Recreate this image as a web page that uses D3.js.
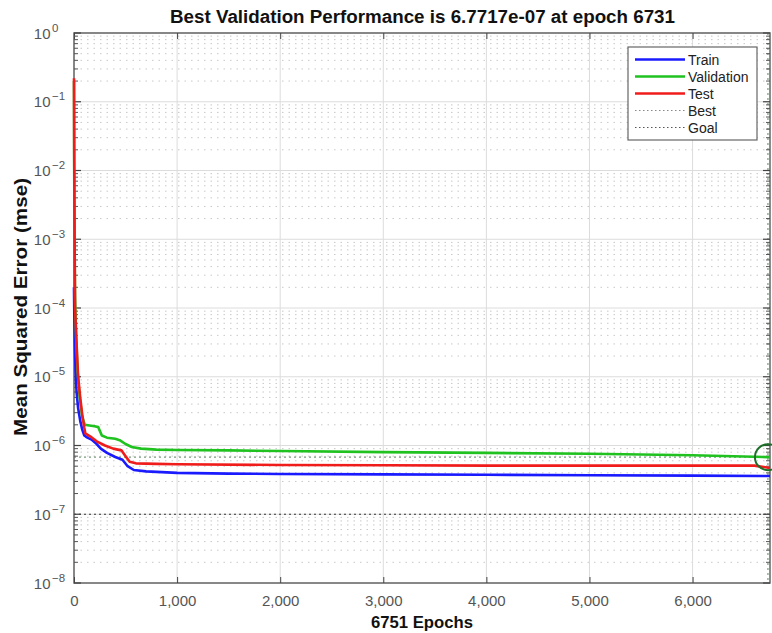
<!DOCTYPE html>
<html><head><meta charset="utf-8">
<script src="https://d3js.org/d3.v7.min.js"></script>
<style>body{margin:0;background:#fff}svg{display:block}</style>
</head><body>
<script>
// ---- data ----
const trainEpochs = [0,3,8,15,25,40,60,80,100,130,170,220,260,320,400,470,520,580,700,1000,1500,2000,3000,4000,5000,6000,6751];
const trainMse    = [2e-4,8e-5,3e-5,1.2e-5,6e-6,3.5e-6,2.3e-6,1.7e-6,1.4e-6,1.3e-6,1.22e-6,1.05e-6,0.9e-6,0.78e-6,0.68e-6,0.62e-6,0.5e-6,0.44e-6,0.42e-6,0.40e-6,0.39e-6,0.385e-6,0.38e-6,0.375e-6,0.37e-6,0.365e-6,0.36e-6];
const valEpochs = [0,2,5,10,20,35,55,80,105,150,200,235,270,320,400,450,500,560,650,800,1000,1500,2000,3000,4000,5000,6000,6731,6751];
const valMse    = [0.2,1e-2,1e-3,1.5e-4,4e-5,1.2e-5,5e-6,2.6e-6,2.0e-6,1.95e-6,1.9e-6,1.85e-6,1.4e-6,1.3e-6,1.25e-6,1.18e-6,1.05e-6,0.95e-6,0.9e-6,0.87e-6,0.86e-6,0.85e-6,0.83e-6,0.8e-6,0.78e-6,0.76e-6,0.72e-6,0.677e-6,0.677e-6];
const testEpochs = [0,2,5,10,25,40,60,80,100,110,160,220,300,380,460,500,540,600,800,1000,2000,3000,4000,5000,6000,6600,6751];
const testMse    = [0.22,2e-2,2e-3,1e-4,3e-5,1e-5,5e-6,2.8e-6,1.8e-6,1.5e-6,1.35e-6,1.15e-6,1.0e-6,0.9e-6,0.85e-6,0.7e-6,0.58e-6,0.55e-6,0.54e-6,0.535e-6,0.52e-6,0.515e-6,0.51e-6,0.51e-6,0.51e-6,0.51e-6,0.47e-6];
const bestEpoch = 6731, bestPerf = 6.7717e-7, goal = 1e-7, totalEpochs = 6751;
const xTicks = [0,1000,2000,3000,4000,5000,6000];
const yDecades = [0,-1,-2,-3,-4,-5,-6,-7,-8];
const seriesNames = ["Train","Validation","Test"];
const seriesColors = ["#1a1aff","#1fc21f","#f01c1c"];
const titleText = "Best Validation Performance is 6.7717e-07 at epoch 6731";
const xLabel = "6751 Epochs";
const yLabel = "Mean Squared Error  (mse)";

// ---- layout ----
const W = 772, H = 633;
const m = {l:74, r:2, t:33, b:50};
const svg = d3.select("body").append("svg").attr("width",W).attr("height",H)
  .style("font-family","'Liberation Sans', Arial, sans-serif");
const x = d3.scaleLinear().domain([0,totalEpochs]).range([m.l, W-m.r]);
const y = d3.scaleLog().domain([1e-8,1]).range([H-m.b, m.t]);
const x0 = m.l, x1 = W-m.r, y0 = m.t, y1 = H-m.b;

// gridlines
const g = svg.append("g");
yDecades.forEach(d=>{
  for(let k=2;k<=9;k++){
    if(d===0) break;
    const v = k*Math.pow(10,d);
    g.append("line").attr("x1",x0).attr("x2",x1).attr("y1",y(v)).attr("y2",y(v))
      .attr("stroke","#c8c8c8").attr("stroke-width",1).attr("stroke-dasharray","1.5,5");
  }
  g.append("line").attr("x1",x0).attr("x2",x1).attr("y1",y(Math.pow(10,d))).attr("y2",y(Math.pow(10,d)))
    .attr("stroke","#dcdcdc").attr("stroke-width",1);
});
xTicks.forEach(t=>{
  g.append("line").attr("x1",x(t)).attr("x2",x(t)).attr("y1",y0).attr("y2",y1)
    .attr("stroke","#dcdcdc").attr("stroke-width",1);
});

// goal and best lines
svg.append("line").attr("x1",x0).attr("x2",x1).attr("y1",y(goal)).attr("y2",y(goal))
  .attr("stroke","#333").attr("stroke-width",1.2).attr("stroke-dasharray","2,3");
svg.append("line").attr("x1",x0).attr("x2",x1).attr("y1",y(bestPerf)).attr("y2",y(bestPerf))
  .attr("stroke","#7a9a7a").attr("stroke-width",1.2).attr("stroke-dasharray","2,3");
svg.append("line").attr("x1",x(bestEpoch)).attr("x2",x(bestEpoch)).attr("y1",y0).attr("y2",y1)
  .attr("stroke","#7a9a7a").attr("stroke-width",1.2).attr("stroke-dasharray","2,3");

// axes box
svg.append("rect").attr("x",x0).attr("y",y0).attr("width",x1-x0).attr("height",y1-y0)
  .attr("fill","none").attr("stroke","#666").attr("stroke-width",1.5);

// x axis ticks (inward) bottom and top
const xAxisB = d3.axisBottom(x).tickValues(xTicks).tickSizeInner(-6).tickSizeOuter(0)
  .tickPadding(12).tickFormat(d3.format(","));
const gxb = svg.append("g").attr("transform",`translate(0,${y1})`).call(xAxisB);
gxb.select(".domain").remove();
gxb.selectAll("line").attr("stroke","#444");
gxb.selectAll("text").attr("font-size","15px").attr("fill","#555");
const xAxisT = d3.axisTop(x).tickValues(xTicks).tickSizeInner(-6).tickSizeOuter(0).tickFormat("");
const gxt = svg.append("g").attr("transform",`translate(0,${y0})`).call(xAxisT);
gxt.select(".domain").remove();
gxt.selectAll("line").attr("stroke","#444");

// y axis ticks (inward), major and minor, left and right
const minorVals = [];
yDecades.forEach(d=>{ if(d>-8){ for(let k=2;k<=9;k++) minorVals.push(k*Math.pow(10,d-1)); }});
[[x0,1],[x1,-1]].forEach(([xx,dir])=>{
  yDecades.forEach(d=>{
    svg.append("line").attr("x1",xx).attr("x2",xx+dir*7).attr("y1",y(Math.pow(10,d))).attr("y2",y(Math.pow(10,d)))
      .attr("stroke","#444").attr("stroke-width",1.2);
  });
  minorVals.forEach(v=>{
    svg.append("line").attr("x1",xx).attr("x2",xx+dir*4).attr("y1",y(v)).attr("y2",y(v))
      .attr("stroke","#555").attr("stroke-width",1);
  });
});
// y tick labels 10^n
yDecades.forEach(d=>{
  const yy = y(Math.pow(10,d));
  svg.append("text").attr("x",50.5).attr("y",yy+5.5).attr("text-anchor","end")
    .attr("fill","#555").attr("font-size","15px").text("10");
  svg.append("text").attr("x",52).attr("y",yy-1.5).attr("text-anchor","start")
    .attr("fill","#555").attr("font-size","11.5px").text(d===0?"0":"\u2212"+(-d));
});

// series (drawn above the box like the reference)
const line = d3.line().x(d=>x(d[0])).y(d=>y(d[1]));
const series = [
  d3.zip(trainEpochs, trainMse),
  d3.zip(valEpochs, valMse),
  d3.zip(testEpochs, testMse)
];
[0,1,2].forEach(i=>{
  svg.append("path").datum(series[i]).attr("d",line).attr("fill","none")
    .attr("stroke",seriesColors[i]).attr("stroke-width",2.6).attr("stroke-linejoin","round");
});
// best circle
svg.append("circle").attr("cx",x(bestEpoch)).attr("cy",y(bestPerf)).attr("r",13)
  .attr("fill","none").attr("stroke","#1e6e2a").attr("stroke-width",2);

// title & labels
svg.append("text").attr("x",422.5).attr("y",23).attr("text-anchor","middle")
  .attr("font-weight","bold").attr("font-size","18px").attr("fill","#111")
  .attr("textLength",505).attr("lengthAdjust","spacingAndGlyphs").text(titleText);
svg.append("text").attr("x",422).attr("y",628).attr("text-anchor","middle")
  .attr("font-weight","bold").attr("font-size","17px").attr("fill","#111")
  .attr("textLength",102).attr("lengthAdjust","spacingAndGlyphs").text(xLabel);
svg.append("text").attr("transform",`translate(27,307) rotate(-90)`).attr("text-anchor","middle")
  .attr("font-weight","bold").attr("font-size","18px").attr("fill","#111")
  .attr("textLength",258).attr("lengthAdjust","spacingAndGlyphs").text(yLabel);

// legend
const lg = svg.append("g");
lg.append("rect").attr("x",628).attr("y",47).attr("width",129).attr("height",93)
  .attr("fill","#fff").attr("stroke","#666").attr("stroke-width",1.2);
const legendItems = [
  {name:seriesNames[0], color:seriesColors[0], dash:null, w:2.6},
  {name:seriesNames[1], color:seriesColors[1], dash:null, w:2.6},
  {name:seriesNames[2], color:seriesColors[2], dash:null, w:2.6},
  {name:"Best", color:"#888", dash:"1.5,2.5", w:1.2},
  {name:"Goal", color:"#555", dash:"1.5,2.5", w:1.2}
];
legendItems.forEach((it,i)=>{
  const yy = 59.5 + i*17;
  lg.append("line").attr("x1",635).attr("x2",685).attr("y1",yy).attr("y2",yy)
    .attr("stroke",it.color).attr("stroke-width",it.w).attr("stroke-dasharray",it.dash);
  lg.append("text").attr("x",688).attr("y",yy+5).attr("font-size","14px").attr("fill","#222").text(it.name);
});
</script>
</body></html>
